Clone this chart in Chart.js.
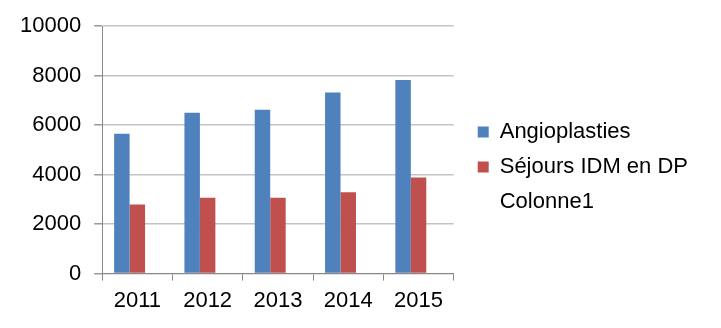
<!DOCTYPE html>
<html>
<head>
<meta charset="utf-8">
<script src="https://cdn.jsdelivr.net/npm/chart.js@4"></script>
<style>
  html, body { margin: 0; padding: 0; background: #fff; }
  #wrap { width: 721px; height: 328px; }
</style>
</head>
<body>
<div id="wrap"><canvas id="c" width="721" height="328"></canvas></div>
<script>
const categories = ['2011', '2012', '2013', '2014', '2015'];
const angioplasties = [5650, 6500, 6620, 7320, 7830];
const sejoursIDM = [2790, 3070, 3070, 3290, 3880];
const colonne1 = [null, null, null, null, null];
const yTicks = [0, 2000, 4000, 6000, 8000, 10000];

const FONT = { family: '"Liberation Sans", Arial, sans-serif', size: 22 };

new Chart(document.getElementById('c'), {
  type: 'bar',
  data: {
    labels: categories,
    datasets: [
      { label: 'Angioplasties', data: angioplasties, backgroundColor: '#4F81BD', borderWidth: 0 },
      { label: 'Séjours IDM en DP', data: sejoursIDM, backgroundColor: '#C0504D', borderWidth: 0 },
      { label: 'Colonne1', data: colonne1, backgroundColor: 'rgba(0,0,0,0)', borderColor: 'rgba(0,0,0,0)', borderWidth: 0 }
    ]
  },
  options: {
    responsive: false,
    animation: false,
    devicePixelRatio: 1,
    layout: { padding: { top: 13, left: 7, right: 23, bottom: 7 } },
    datasets: { bar: { categoryPercentage: 0.66, barPercentage: 1.0 } },
    plugins: {
      tooltip: { enabled: false },
      legend: {
        position: 'right',
        align: 'center',
        maxWidth: 320,
        labels: {
          color: '#000',
          font: { ...FONT, lineHeight: 1.0 },
          boxWidth: 11,
          boxHeight: 11,
          padding: 13
        }
      }
    },
    scales: {
      x: {
        grid: { display: true, drawOnChartArea: false, drawTicks: true, tickLength: 7, tickColor: '#888', offset: true },
        border: { display: true, color: '#888', width: 1 },
        ticks: { color: '#000', font: FONT, padding: 7, maxRotation: 0 }
      },
      y: {
        min: 0,
        max: 10000,
        afterBuildTicks: (s) => { s.ticks = yTicks.map(v => ({ value: v })); },
        grid: { color: '#c4c4c4', lineWidth: 1.5, tickLength: 8, tickColor: '#999', drawTicks: true },
        border: { display: true, color: '#888', width: 1 },
        ticks: { color: '#000', font: FONT, padding: 13, callback: (v) => String(v) }
      },
      y2: {
        position: 'right',
        display: true,
        grid: { display: false, drawTicks: false },
        border: { display: false },
        ticks: { display: false },
        afterFit: (s) => { s.width = 11; }
      }
    }
  }
});
</script>
</body>
</html>
